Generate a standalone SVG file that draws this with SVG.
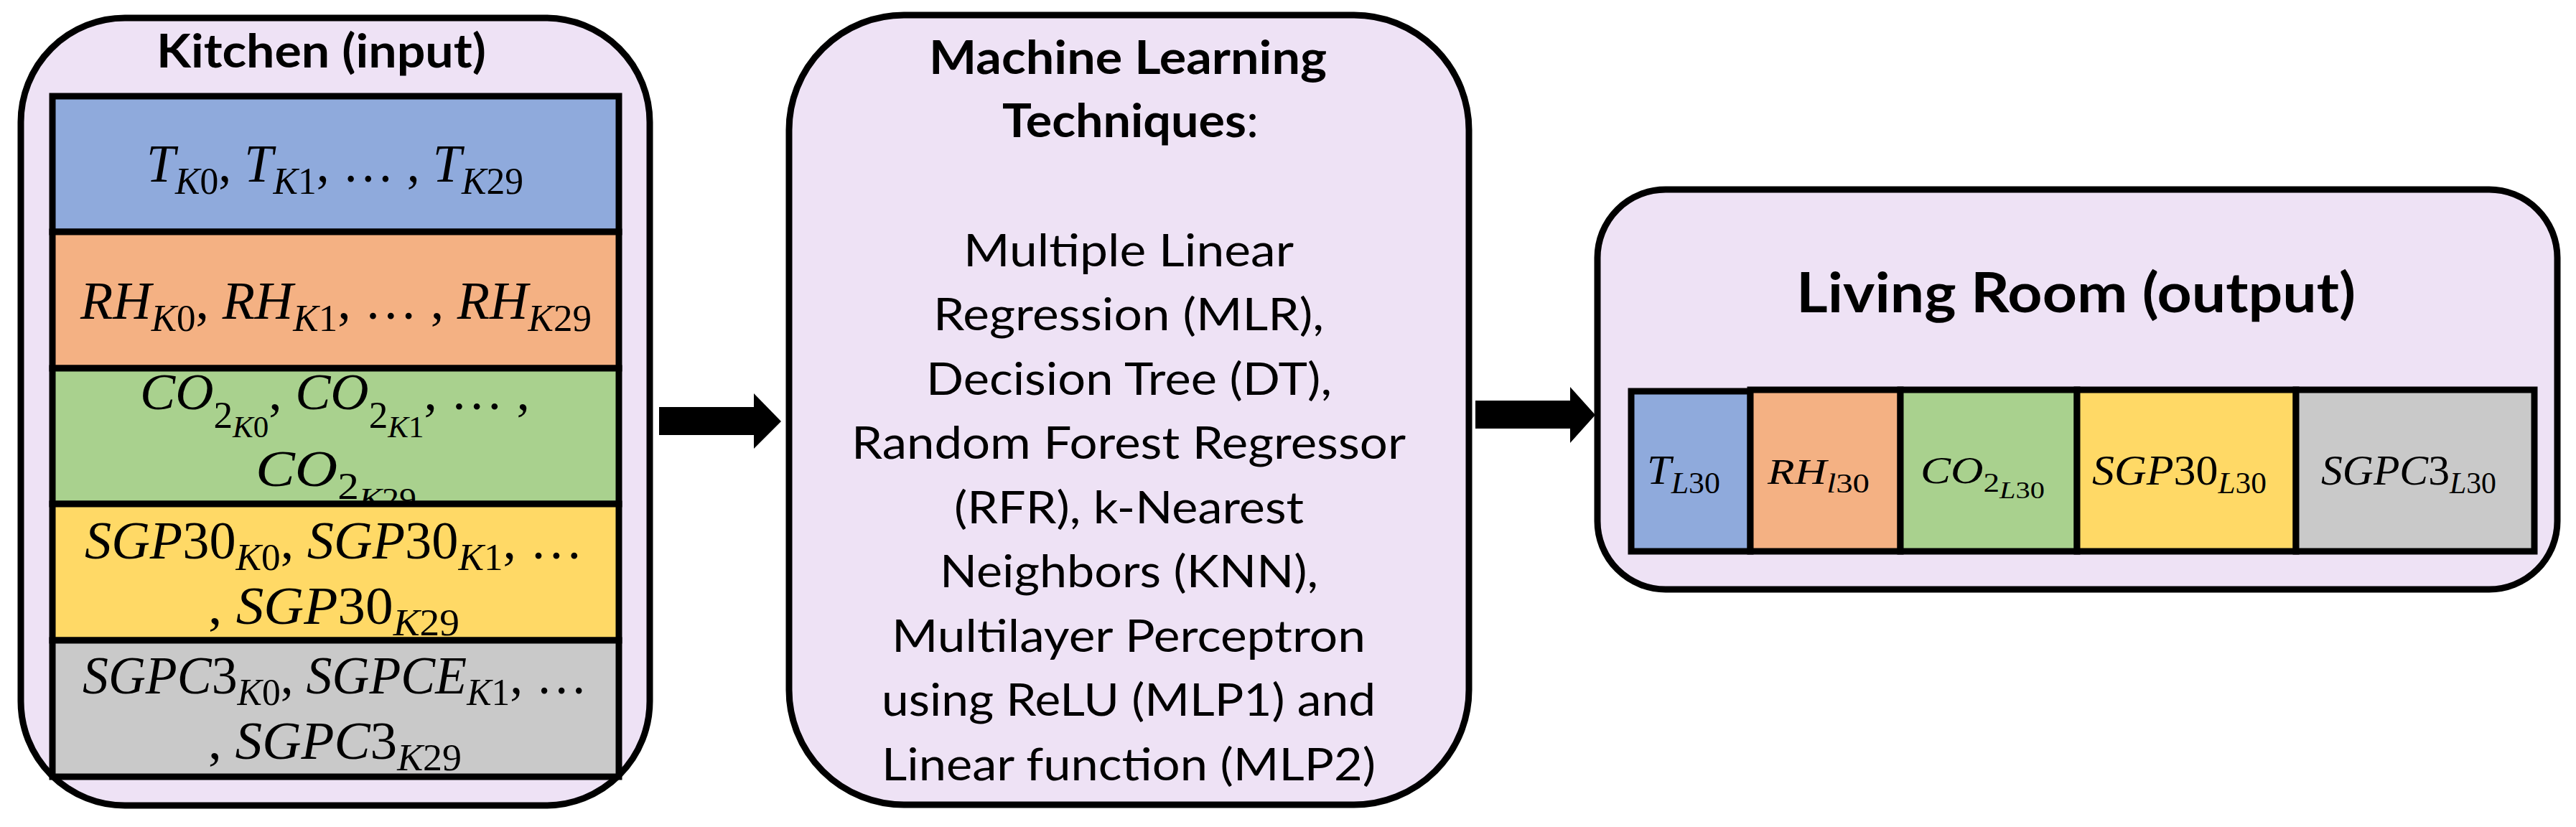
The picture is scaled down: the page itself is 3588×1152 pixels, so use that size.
<svg xmlns="http://www.w3.org/2000/svg" width="3588" height="1152" viewBox="0 0 3588 1152">
<style>
.box{fill:#EEE2F5;stroke:#000;stroke-width:9}
.cell{stroke:#000;stroke-width:9}
.blue{fill:#8FAADC}.orange{fill:#F4B183}.green{fill:#A9D18E}.yellow{fill:#FFD966}.gray{fill:#C9C9C9}
.title{font-family:Lato,"Liberation Sans",sans-serif;font-weight:bold;fill:#000}
.body{font-family:Lato,"Liberation Sans",sans-serif;font-size:61px;fill:#000}
.m{font-family:"Liberation Serif","DejaVu Serif",serif;fill:#000}
.i{font-style:italic}
.arrow{fill:#000}
</style>
<defs>
<clipPath id="greenClip"><rect x="77" y="517" width="781" height="181"/></clipPath>
</defs>
<rect width="3588" height="1152" fill="#fff"/>

<g id="kitchen">
<rect class="box" x="29" y="25" width="876" height="1097" rx="145" ry="145"/>
<text class="title" x="218" y="94" font-size="65" textLength="459" lengthAdjust="spacingAndGlyphs">Kitchen (input)</text>
<rect class="cell blue" x="73" y="134" width="789" height="189"/>
<rect class="cell orange" x="73" y="323" width="789" height="190"/>
<rect class="cell green" x="73" y="513" width="789" height="189"/>
<rect class="cell yellow" x="73" y="702" width="789" height="190"/>
<rect class="cell gray" x="73" y="892" width="789" height="190"/>
<text class="m" x="204" y="253" font-size="74" textLength="525" lengthAdjust="spacingAndGlyphs"><tspan class="i">T</tspan><tspan font-size="53" dy="17"><tspan class="i">K</tspan>0</tspan><tspan dy="-17">, </tspan><tspan class="i">T</tspan><tspan font-size="53" dy="17"><tspan class="i">K</tspan>1</tspan><tspan dy="-17">, … , </tspan><tspan class="i">T</tspan><tspan font-size="53" dy="17"><tspan class="i">K</tspan>29</tspan></text>
<text class="m" x="112" y="444" font-size="74" textLength="712" lengthAdjust="spacingAndGlyphs"><tspan class="i">RH</tspan><tspan font-size="53" dy="17"><tspan class="i">K</tspan>0</tspan><tspan dy="-17">, </tspan><tspan class="i">RH</tspan><tspan font-size="53" dy="17"><tspan class="i">K</tspan>1</tspan><tspan dy="-17">, … , </tspan><tspan class="i">RH</tspan><tspan font-size="53" dy="17"><tspan class="i">K</tspan>29</tspan></text>
<g clip-path="url(#greenClip)">
<text class="m" x="195" y="570" font-size="72" textLength="543" lengthAdjust="spacingAndGlyphs"><tspan class="i">CO</tspan><tspan font-size="52" dy="26">2</tspan><tspan font-size="42" dy="13"><tspan class="i">K</tspan>0</tspan><tspan dy="-39">, </tspan><tspan class="i">CO</tspan><tspan font-size="52" dy="26">2</tspan><tspan font-size="42" dy="13"><tspan class="i">K</tspan>1</tspan><tspan dy="-39">, … ,</tspan></text>
<text class="m" x="356" y="677" font-size="72" textLength="224" lengthAdjust="spacingAndGlyphs"><tspan class="i">CO</tspan><tspan font-size="52" dy="18">2</tspan><tspan font-size="42" dy="14"><tspan class="i">K</tspan>29</tspan></text>
</g>
<text class="m" x="118" y="778" font-size="74" textLength="694" lengthAdjust="spacingAndGlyphs"><tspan class="i">SGP</tspan>30<tspan font-size="53" dy="16"><tspan class="i">K</tspan>0</tspan><tspan dy="-16">, </tspan><tspan class="i">SGP</tspan>30<tspan font-size="53" dy="16"><tspan class="i">K</tspan>1</tspan><tspan dy="-16">, …</tspan></text>
<text class="m" x="290" y="869" font-size="74" textLength="350" lengthAdjust="spacingAndGlyphs">, <tspan class="i">SGP</tspan>30<tspan font-size="53" dy="16"><tspan class="i">K</tspan>29</tspan></text>
<text class="m" x="115" y="966" font-size="74" textLength="703" lengthAdjust="spacingAndGlyphs"><tspan class="i">SGPC</tspan>3<tspan font-size="53" dy="16"><tspan class="i">K</tspan>0</tspan><tspan dy="-16">, </tspan><tspan class="i">SGPCE</tspan><tspan font-size="53" dy="16"><tspan class="i">K</tspan>1</tspan><tspan dy="-16">, …</tspan></text>
<text class="m" x="290" y="1057" font-size="74" textLength="353" lengthAdjust="spacingAndGlyphs">, <tspan class="i">SGPC</tspan>3<tspan font-size="53" dy="16"><tspan class="i">K</tspan>29</tspan></text>
</g>

<g id="ml">
<rect class="box" x="1099" y="21" width="947" height="1100" rx="160" ry="160"/>
<text class="title" x="1294" y="103" font-size="65" textLength="554" lengthAdjust="spacingAndGlyphs">Machine Learning</text>
<text class="title" x="1396" y="191" font-size="65" textLength="357" lengthAdjust="spacingAndGlyphs">Techniques<tspan font-weight="normal">:</tspan></text>
<text class="body" x="1342" y="371" textLength="460" lengthAdjust="spacingAndGlyphs">Multiple Linear</text>
<text class="body" x="1300" y="460" textLength="544" lengthAdjust="spacingAndGlyphs">Regression (MLR),</text>
<text class="body" x="1290" y="550" textLength="565" lengthAdjust="spacingAndGlyphs">Decision Tree (DT),</text>
<text class="body" x="1186" y="639" textLength="772" lengthAdjust="spacingAndGlyphs">Random Forest Regressor</text>
<text class="body" x="1329" y="729" textLength="487" lengthAdjust="spacingAndGlyphs">(RFR), k-Nearest</text>
<text class="body" x="1309" y="818" textLength="527" lengthAdjust="spacingAndGlyphs">Neighbors (KNN),</text>
<text class="body" x="1242" y="908" textLength="660" lengthAdjust="spacingAndGlyphs">Multilayer Perceptron</text>
<text class="body" x="1228" y="997" textLength="688" lengthAdjust="spacingAndGlyphs">using ReLU (MLP1) and</text>
<text class="body" x="1228" y="1087" textLength="688" lengthAdjust="spacingAndGlyphs">Linear function (MLP2)</text>
</g>

<g id="living">
<rect class="box" x="2225" y="264" width="1337" height="557" rx="95" ry="95"/>
<text class="title" x="2502" y="435" font-size="77" textLength="779" lengthAdjust="spacingAndGlyphs">Living Room (output)</text>
<rect class="cell blue" x="2272" y="545" width="166" height="223"/>
<rect class="cell orange" x="2438" y="543" width="209" height="225"/>
<rect class="cell green" x="2647" y="543" width="246" height="225"/>
<rect class="cell yellow" x="2893" y="543" width="305" height="225"/>
<rect class="cell gray" x="3198" y="543" width="332" height="225"/>
<text class="m" x="2294" y="674" font-size="58" textLength="102" lengthAdjust="spacingAndGlyphs"><tspan class="i">T</tspan><tspan font-size="42" dy="13"><tspan class="i">L</tspan>30</tspan></text>
<text class="m" x="2462" y="674" font-size="50" textLength="142" lengthAdjust="spacingAndGlyphs"><tspan class="i">RH</tspan><tspan font-size="38" dy="12"><tspan class="i">l</tspan>30</tspan></text>
<text class="m" x="2675" y="673" font-size="53" textLength="173" lengthAdjust="spacingAndGlyphs"><tspan class="i">CO</tspan><tspan font-size="38" dy="12">2</tspan><tspan font-size="34" dy="9"><tspan class="i">L</tspan>30</tspan></text>
<text class="m" x="2914" y="675" font-size="60" textLength="243" lengthAdjust="spacingAndGlyphs"><tspan class="i">SGP</tspan>30<tspan font-size="42" dy="12"><tspan class="i">L</tspan>30</tspan></text>
<text class="m" x="3233" y="675" font-size="60" textLength="244" lengthAdjust="spacingAndGlyphs"><tspan class="i">SGPC</tspan>3<tspan font-size="42" dy="12"><tspan class="i">L</tspan>30</tspan></text>
</g>

<g id="connectors">
<polygon class="arrow" points="918,567 1050,567 1050,548 1088,587 1050,625 1050,606 918,606"/>
<polygon class="arrow" points="2055,558 2187,558 2187,539 2222,578 2187,617 2187,597 2055,597"/>
</g>
</svg>
